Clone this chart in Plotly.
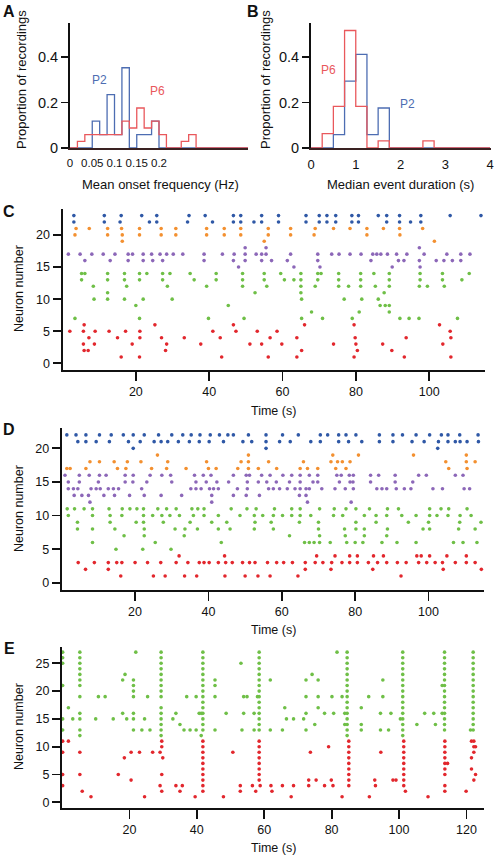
import plotly.graph_objects as go

W, H = 497, 860

# ---------------- Panel A: mean onset frequency histogram (bins of 1/60 Hz) ----------------
A_BIN_WIDTH = 1 / 60
A_P2 = [0, 0, 0, 0.118, 0.059, 0.235, 0.059, 0.353, 0, 0.059, 0.059, 0.118,
        0, 0, 0, 0, 0, 0, 0, 0, 0, 0, 0, 0]
A_P6 = [0, 0.029, 0.059, 0.059, 0.059, 0.059, 0.059, 0.118, 0.088, 0.176, 0.088, 0.118,
        0.059, 0, 0, 0.029, 0.059, 0, 0, 0, 0, 0, 0, 0]
A_XTICKS = [0, 0.05, 0.1, 0.15, 0.2]
A_XTICKTEXT = ["0", "0.05", "0.1", "0.15", "0.2"]
HIST_YTICKS = [0, 0.2, 0.4]
HIST_YTICKTEXT = ["0", "0.2", "0.4"]

# ---------------- Panel B: median event duration histogram (bins of 0.25 s) ----------------
B_BIN_WIDTH = 0.25
B_P2 = [0, 0, 0.059, 0.294, 0.412, 0.059, 0.176, 0, 0, 0, 0, 0, 0, 0, 0, 0]
B_P6 = [0, 0.063, 0.183, 0.517, 0.183, 0, 0.031, 0, 0, 0, 0.031, 0, 0, 0, 0, 0]
B_XTICKS = [0, 1, 2, 3, 4]

# ---------------- Panel C raster ----------------
C_BLUE_ROWS = [23, 22]
C_BLUE_T = [
    [3.1, 11.4, 16, 21.6, 25.7, 34.5, 38.9, 46.6, 48.6, 54.3, 58.9, 66.4, 70, 72.1, 74.5, 78.9, 80.7, 86.1, 88.4, 91.9, 97.7, 105.7, 114.1],
    [3.1, 11.4, 15.7, 23.7, 25.7, 34.1, 40.9, 46.6, 48.6, 52.2, 54.3, 58.9, 66.4, 70, 72.1, 74.5, 78.9, 80.7, 88.4, 91.9, 94.9, 97.7],
]
C_ORANGE_ROWS = [21, 20, 19]
C_ORANGE_T = [
    [3.7, 7.3, 12.3, 16.1, 21, 26.9, 30.9, 39.3, 44.1, 48.6, 56.1, 62.2, 68.9, 73.9, 78.4, 83, 87.5, 91.9, 98.2],
    [3.4, 12.3, 16.3, 21, 26.9, 30.9, 39.3, 44.1, 48.6, 56.1, 62.2, 68.6, 83, 92],
    [16.3, 55, 101.4],
]
C_PURPLE_ROWS = [18, 17, 16, 15]
C_PURPLE_T = [
    [49.8, 55.5, 97.3],
    [1.6, 4.8, 8, 11.1, 14.3, 17.9, 19.1, 22, 24.3, 26.6, 28.4, 30.2, 32.8, 38.6, 43.6, 46.8, 49.8, 52.8, 54.3, 55.5,
     62.2, 69.6, 73.4, 75.4, 78.4, 81.4, 84.6, 85.7, 86.8, 88.6, 91.1, 93.9, 98.6, 104.8, 108.6, 111.1],
    [6.1, 13, 17.9, 22, 24.6, 27.3, 38.6, 46.6, 49.8, 54.3, 57, 61.3, 69.6, 84.1, 91.6, 93.1, 97.3, 101.9, 104, 106.3, 108.6],
    [48, 63.1, 70.2, 89.9, 97.5],
]
C_GREEN_ROWS = [14, 13, 12, 11, 10, 9, 8, 7]
C_GREEN_T = [
    [5.2, 6.1, 12.3, 16.9, 21, 23, 27.3, 29.3, 34.8, 41.9, 49.1, 55, 59.5, 65, 69.6, 70.5, 75.3, 81.3, 84.9, 89.1, 97.5, 103.6, 110.9],
    [5.2, 12.3, 16.9, 21, 27.3, 35.9, 41.9, 49.1, 55, 60.5, 63.1, 65, 69.6, 75.3, 81.3, 89.1, 97.5, 103.6, 108.9],
    [8.4, 17.5, 28.6, 39.3, 49.1, 55.7, 65, 68.9, 75.3, 78, 81.3, 85.3, 89.1, 97.3, 99.5, 104.1],
    [12.3, 52.5, 65, 87.7],
    [8.6, 12.3, 16.9, 22, 29.9, 65.2, 76.8, 81.6, 86.1],
    [20, 45.2, 86.6, 88, 89.1],
    [67.9, 80.9, 89.1],
    [3.4, 21, 39.8, 49.5, 65.2, 70.9, 79, 92, 94.5, 97.2, 107.7],
]
C_RED_ROWS = [6, 5, 4, 3, 2, 1]
C_RED_T = [
    [5.9, 25.2, 46.6, 66, 79.5, 102.8],
    [2, 5.7, 8.9, 12.7, 17.2, 21.1, 41, 47.3, 53.1, 58.5, 105.7],
    [7.2, 15, 21.1, 27, 33.2, 43, 56.6, 63.9, 79.8, 93.7, 105.9],
    [5.7, 8.7, 19, 28.4, 37.7, 51.1, 54.3, 59.8, 73.9, 80, 87.3, 103.7],
    [5.9, 7, 28.1, 65.2, 80.4, 89.8],
    [16, 21, 43.4, 56.1, 63.9, 79.5, 93.2, 105.9],
]

# ---------------- Panel D raster ----------------
D_BLUE_ROWS = [22, 21, 20]
D_BLUE_T = [
    [1.4, 3.9, 6.6, 10.3, 13.5, 16.8, 19.5, 22.5, 26.4, 30, 33, 35.3, 37.7, 40.5, 43, 45.3, 46.8, 50.9, 55.7, 60.2, 64.5,
     70.5, 72.5, 75.5, 77.5, 80.2, 86.6, 90.3, 92.9, 96.6, 100.3, 103.5, 105.3, 108.5, 113.5],
    [4.4, 6.6, 9.4, 13, 18.2, 21.4, 25.2, 27.1, 28.9, 31.8, 34.8, 37.5, 40.2, 44.1, 49.4, 51.8, 55.7, 59.4, 62.3, 67.9,
     70.5, 75.5, 78.2, 81.8, 86.6, 90.3, 95.5, 98.8, 102.7, 105.3, 107.3, 108.6, 110.5, 113.6],
    [19.5, 55.7, 102.5],
]
D_ORANGE_ROWS = [19, 18, 17]
D_ORANGE_T = [
    [26.1, 50.9, 73.9, 80.9, 95.9, 110.3],
    [7.7, 10.3, 14.3, 17.9, 21.6, 28.9, 39.5, 48.9, 50.9, 56.4, 65.9, 73.4, 75.2, 76.5, 78.6, 104.7, 110.3, 112.7],
    [1.4, 2.3, 6.6, 15.2, 17.5, 24.5, 28.6, 33.9, 40, 42.1, 48, 50.9, 53.6, 58.6, 65, 67, 69.8, 74.7, 77.5, 105.5, 110.5],
]
D_PURPLE_ROWS = [16, 15, 14, 13, 12]
D_PURPLE_T = [
    [0.9, 4.8, 7.5, 10.3, 12.1, 17.3, 19.5, 24.1, 27.3, 29.7, 36.2, 38.6, 40.7, 46.8, 50.3, 51.2, 54.5, 56.8, 60.3, 62.7,
     65, 67.5, 69.8, 75, 76.2, 78.4, 79.5, 84.2, 86.4, 90.9, 97.3, 99.4, 107.3, 109.4],
    [1.8, 4.8, 10, 17.3, 19.4, 23.2, 30, 36.6, 39.4, 42.3, 45.5, 50.6, 53.6, 55.9, 58.5, 62.1, 65, 68.5, 69.8, 75.7,
     78.6, 79.4, 84.2, 90.9, 95.7],
    [1.8, 3.2, 4.4, 8, 9.4, 10.5, 12.7, 14.1, 15.5, 21.8, 35.2, 36.6, 38, 40.3, 41.4, 42.7, 47.9, 50.6, 56.4, 57.7,
     59.4, 61.5, 63.6, 65, 66.6, 67.5, 70.9, 74.5, 77.3, 79.5, 85.9, 87.3, 88.6, 91.2, 93.4, 95.2, 101.2, 103.8, 109.7, 111.2],
    [3.4, 5.5, 7.3, 11.5, 14.4, 18.5, 22.5, 27.1, 32.7, 40.9, 46.8, 50.3, 53.9, 64.8, 66.6],
    [7.7, 40.9, 67, 78.9],
]
D_GREEN_ROWS = [11, 10, 9, 8, 7, 6, 5]
D_GREEN_T = [
    [1.5, 3.5, 6.1, 8.4, 12.9, 16.5, 18.6, 20.5, 22.3, 26.2, 28.6, 31.2, 35.5, 37.1, 38.8, 46.2, 50.5, 53, 58, 62.7,
     65, 70.3, 74.3, 77.5, 80.2, 83.9, 88.8, 91.8, 100.3, 103.4, 105.5, 110.5],
    [1.8, 8.4, 13.2, 16.4, 22.3, 24.8, 27.3, 29.5, 32.1, 35.9, 38.8, 42.7, 48.6, 52.5, 54.8, 57.7, 60.2, 62.7, 65, 67.9,
     74.1, 76.6, 82.5, 85.7, 88.6, 92.7, 96.6, 100.3, 102.3, 105.3, 108.6, 111.6],
    [4.3, 13.2, 20.3, 22.3, 27.7, 35, 40.9, 45, 52.7, 57.1, 64.8, 70, 80.2, 85.7, 94.5, 100, 108.5, 114.3],
    [4.3, 8.4, 14.5, 22.5, 30.9, 33.6, 37, 42.7, 45.9, 52.5, 57.7, 70, 77.1, 80.2, 82.5, 88.8, 98.5, 100.3, 108.2, 112.7],
    [17, 22.5, 33.4, 62.1, 70.3, 77.3, 82.5, 88.6],
    [8.4, 25.5, 43.5, 66.2, 67.5, 68.8, 70.3, 73.2, 77.7, 80, 82.1, 87.3, 91.4, 96.6, 106.8, 109.4, 113.2],
    [14.8, 22.1, 29.8],
]
D_RED_ROWS = [4, 3, 2, 1]
D_RED_T = [
    [32, 44.4, 69.5, 74.5, 78.5, 80.6, 85, 87.7, 96.8, 98, 100.3, 105, 110.3],
    [4.5, 8.9, 12.7, 15, 16.4, 20, 23.4, 27, 31.2, 34.4, 37.5, 38.8, 40.2, 42.7, 44.7, 46.5, 49.3, 51.2, 52.7, 56.1,
     58.6, 60.5, 62.9, 66.4, 69.1, 71.2, 73.6, 76.4, 78.5, 80.6, 83.6, 86.1, 88.6, 91.5, 93.9, 97.3, 99.5, 101.8,
     103.8, 107.3, 110.3, 112.7],
    [6.5, 12.7, 66.4, 73.4, 84.8, 104, 114.4],
    [16.1, 25, 28.2, 33.5, 36.8, 44.5, 50, 53.5, 56.8, 64.4, 92.5],
]

# ---------------- Panel E raster (events: time, neurons active) ----------------
E_GREEN_EVENT_T = [0.2, 1.9, 3.2, 5.3, 10.0, 10.8, 12.8, 15.2, 18.0, 18.7, 19.2, 21.2, 21.9, 23.7, 24.5, 25.4, 26.1,
                   29.4, 32.9, 33.8, 35.0, 36.2, 37.0, 38.0, 39.8, 40.7, 41.3, 41.8, 45.4, 48.7, 53.1, 53.4, 53.9,
                   54.9, 57.0, 58.0, 58.5, 61.8, 65.4, 66.1, 66.6, 68.7, 71.7, 72.4, 74.2, 75.0, 76.0, 77.9, 80.1,
                   80.6, 81.6, 83.1, 83.9, 84.6, 88.8, 91.0, 94.5, 95.2, 96.9, 97.6, 100.4, 101.1, 105.3, 107.6,
                   110.3, 110.8, 112.8, 113.5, 121.2, 122.0]
E_GREEN_EVENT_N = [
    [27, 26, 25, 21, 15, 13], [17], [15], [27, 26, 25, 24, 23, 22, 21, 19, 16, 15, 13, 12], [15], [19], [19], [15],
    [22, 16], [23], [15], [22, 21, 20, 19, 16, 15, 13], [27], [13], [15], [19], [13],
    [27, 26, 25, 24, 23, 22, 21, 20, 19, 17, 16, 15, 14, 13, 12], [15], [16], [14], [13], [19], [13], [19, 13],
    [16], [16, 12], [27, 26, 25, 24, 23, 22, 21, 20, 19, 18, 17, 16, 15, 14, 13], [22, 21, 19, 13], [16], [25],
    [13], [19, 16], [19], [16, 13], [19], [27, 26, 25, 24, 23, 22, 21, 20, 19, 18, 17, 16, 15, 14, 13], [22, 13],
    [13], [17], [15], [15], [15], [22, 19, 16, 13], [23], [14], [22, 19, 17], [16], [19], [16], [27], [19], [16, 14],
    [27, 26, 25, 24, 23, 22, 21, 20, 19, 18, 17, 16, 15, 14, 13, 12], [17, 14, 13], [19], [16, 13], [22, 19], [13],
    [16], [15], [27, 26, 25, 24, 23, 22, 21, 20, 19, 18, 17, 16, 15, 14, 13, 12], [14], [16], [16], [14], [21, 16],
    [27, 26, 25, 24, 23, 22, 21, 20, 19, 18, 17, 16, 15, 14, 13], [13],
    [27, 26, 25, 24, 23, 22, 21, 20, 19, 18, 17, 16, 15, 14, 13],
]
E_RED_EVENT_T = [0.2, 1.9, 5.3, 6.0, 8.6, 16.7, 18.5, 20.5, 23.0, 24.5, 26.9, 29.1, 29.6, 29.9, 33.8, 35.0, 35.7,
                 39.5, 41.8, 47.9, 50.7, 52.9, 56.5, 57.5, 58.5, 58.8, 62.0, 62.3, 65.4, 68.0, 68.7, 73.2, 73.7,
                 75.4, 77.9, 79.1, 79.9, 80.4, 83.1, 85.1, 91.2, 92.8, 93.0, 94.6, 98.2, 99.1, 101.4, 101.9, 108.6,
                 113.6, 114.4, 119.9, 121.5, 122.2, 122.7]
E_RED_EVENT_N = [
    [11, 9, 5, 3], [11], [9, 5], [2], [1], [5], [8], [9, 4], [9], [1], [9], [9, 3], [11, 10, 5, 2], [8], [3], [2],
    [3], [1], [11, 10, 9, 8, 7, 6, 5, 4, 3, 2], [1], [9], [3, 2], [3], [2], [11, 10, 9, 8, 7, 6, 5, 4], [3], [3],
    [2], [3], [1], [3], [4, 3], [9], [4], [3], [10], [4], [3], [1], [11, 10, 9, 8, 7, 6, 5, 4, 3], [1], [4], [3],
    [9], [4], [4], [11, 10, 9, 8, 7, 6, 5, 4, 3], [2], [1], [11, 10, 9, 8, 7, 6, 5, 3, 2], [7], [2], [11, 8, 6],
    [11, 10, 9, 4], [10, 5],
]

C_YTICKS = [0, 5, 10, 15, 20]
D_YTICKS = [0, 5, 10, 15, 20]
E_YTICKS = [0, 5, 10, 15, 20, 25]
CD_XTICKS = [20, 40, 60, 80, 100]
E_XTICKS = [20, 40, 60, 80, 100, 120]

# ---------------- styling ----------------
FONT = "Liberation Sans, Arial, sans-serif"
HIST_BLUE = "#4d6db2"
HIST_RED = "#e9585c"
DOT = {
    "blue": "#2f58a6",
    "orange": "#f39030",
    "purple": "#8c67b8",
    "green": "#6fbf47",
    "red": "#e2272d",
}


def px(x):
    return x / W


def py(y):
    return 1 - y / H


def step_xy(values, width):
    xs, ys = [0.0], [0.0]
    for i, v in enumerate(values):
        xs.append(i * width)
        ys.append(v)
    xs.append(len(values) * width)
    ys.append(0.0)
    return xs, ys


def rows_to_xy(rows, times):
    xs, ys = [], []
    for r, ts in zip(rows, times):
        xs.extend(ts)
        ys.extend([r] * len(ts))
    return xs, ys


def events_to_xy(times, neurons):
    xs, ys = [], []
    for t, ns in zip(times, neurons):
        xs.extend([t] * len(ns))
        ys.extend(ns)
    return xs, ys


fig = go.Figure()

# Histograms
for vals, col, width, xa, ya in [
    (A_P2, HIST_BLUE, A_BIN_WIDTH, "x", "y"),
    (A_P6, HIST_RED, A_BIN_WIDTH, "x", "y"),
    (B_P2, HIST_BLUE, B_BIN_WIDTH, "x2", "y2"),
    (B_P6, HIST_RED, B_BIN_WIDTH, "x2", "y2"),
]:
    xs, ys = step_xy(vals, width)
    fig.add_trace(go.Scatter(x=xs, y=ys, mode="lines", line=dict(color=col, width=1.3, shape="hv"),
                             xaxis=xa, yaxis=ya, showlegend=False, hoverinfo="skip"))

# Rasters
raster_sets = [
    ("x3", "y3", [(C_BLUE_ROWS, C_BLUE_T, "blue"), (C_ORANGE_ROWS, C_ORANGE_T, "orange"),
                  (C_PURPLE_ROWS, C_PURPLE_T, "purple"), (C_GREEN_ROWS, C_GREEN_T, "green"),
                  (C_RED_ROWS, C_RED_T, "red")]),
    ("x4", "y4", [(D_BLUE_ROWS, D_BLUE_T, "blue"), (D_ORANGE_ROWS, D_ORANGE_T, "orange"),
                  (D_PURPLE_ROWS, D_PURPLE_T, "purple"), (D_GREEN_ROWS, D_GREEN_T, "green"),
                  (D_RED_ROWS, D_RED_T, "red")]),
]
for xa, ya, groups in raster_sets:
    for rows, times, c in groups:
        xs, ys = rows_to_xy(rows, times)
        fig.add_trace(go.Scatter(x=xs, y=ys, mode="markers",
                                 marker=dict(color=DOT[c], size=3.6, line=dict(width=0)),
                                 xaxis=xa, yaxis=ya, showlegend=False, hoverinfo="skip"))

for times, neurons, c in [(E_GREEN_EVENT_T, E_GREEN_EVENT_N, "green"), (E_RED_EVENT_T, E_RED_EVENT_N, "red")]:
    xs, ys = events_to_xy(times, neurons)
    fig.add_trace(go.Scatter(x=xs, y=ys, mode="markers",
                             marker=dict(color=DOT[c], size=3.6, line=dict(width=0)),
                             xaxis="x5", yaxis="y5", showlegend=False, hoverinfo="skip"))

axis_common = dict(showgrid=False, zeroline=False, showline=True, linecolor="#111",
                   tickfont=dict(family=FONT, size=13, color="#111"), ticks="outside",
                   tickcolor="#111", fixedrange=True, automargin=False, tickangle=0)

hist_y = dict(axis_common, linewidth=2, ticklen=7, tickwidth=1.5, range=[0, 0.55],
              tickvals=HIST_YTICKS, ticktext=HIST_YTICKTEXT, domain=[py(148), py(23)],
              tickfont=dict(family=FONT, size=14.5, color="#111"))
hist_x = dict(axis_common, linewidth=1.5, linecolor="#3a2222", ticklen=4, tickcolor="rgba(0,0,0,0)")

rast_x = dict(axis_common, linewidth=2, ticklen=9, tickwidth=1.8, tickfont=dict(family=FONT, size=12.5, color="#111"))
rast_y = dict(axis_common, linewidth=2, ticklen=8, tickwidth=1.8, tickfont=dict(family=FONT, size=12.5, color="#111"))

fig.update_layout(
    width=W, height=H, autosize=False,
    margin=dict(l=0, r=0, t=0, b=0, pad=0),
    paper_bgcolor="white", plot_bgcolor="white",
    font=dict(family=FONT, color="#111"),
    xaxis=dict(hist_x, domain=[px(70), px(248)], range=[0, 0.4], tickvals=A_XTICKS, ticktext=A_XTICKTEXT,
               tickfont=dict(family=FONT, size=11.5, color="#111"), anchor="y"),
    yaxis=dict(hist_y, anchor="x"),
    xaxis2=dict(hist_x, domain=[px(311), px(490.5)], range=[0, 4.01], tickvals=B_XTICKS,
                tickfont=dict(family=FONT, size=13, color="#111"), anchor="y2"),
    yaxis2=dict(hist_y, anchor="x2"),
    xaxis3=dict(rast_x, domain=[px(62.5), px(485)], range=[0, 115.2], tickvals=CD_XTICKS, anchor="y3"),
    yaxis3=dict(rast_y, domain=[py(369.8), py(209.2)], range=[-1, 24], tickvals=C_YTICKS, anchor="x3"),
    xaxis4=dict(rast_x, domain=[px(61.7), px(484.3)], range=[0, 115.2], tickvals=CD_XTICKS, anchor="y4"),
    yaxis4=dict(rast_y, domain=[py(589.5), py(428.2)], range=[-1, 23], tickvals=D_YTICKS, anchor="x4"),
    xaxis5=dict(rast_x, domain=[px(62), px(484.3)], range=[0, 125.3], tickvals=E_XTICKS, anchor="y5"),
    yaxis5=dict(rast_y, domain=[py(807.9), py(646.6)], range=[-1, 28], tickvals=E_YTICKS, anchor="x5"),
)

ann = []


def add_text(text, x, y, size=13, angle=0, color="#111", bold=False, xanchor="center", yanchor="middle"):
    ann.append(dict(text=f"<b>{text}</b>" if bold else text, x=px(x), y=py(y), xref="paper", yref="paper",
                    showarrow=False, textangle=angle, xanchor=xanchor, yanchor=yanchor,
                    font=dict(family=FONT, size=size, color=color)))


# panel letters
add_text("A", 9, 12, size=16, bold=True)
add_text("B", 253, 12, size=16, bold=True)
add_text("C", 9, 211, size=16, bold=True)
add_text("D", 9, 429, size=16, bold=True)
add_text("E", 9, 648, size=16, bold=True)

# axis titles
add_text("Proportion of recordings", 22, 80, size=13, angle=-90)
add_text("Proportion of recordings", 266, 80, size=13, angle=-90)
add_text("Mean onset frequency (Hz)", 160, 184, size=13)
add_text("Median event duration (s)", 400, 184, size=13)
add_text("Neuron number", 19, 289, size=12.5, angle=-90)
add_text("Time (s)", 273, 411, size=12.5)
add_text("Neuron number", 19, 509, size=12.5, angle=-90)
add_text("Time (s)", 273, 630, size=12.5)
add_text("Neuron number", 19, 727, size=12.5, angle=-90)
add_text("Time (s)", 273, 848, size=12.5)

fig.update_layout(annotations=ann)

# P2 / P6 labels in data coordinates
for text, x, y, col, xa, ya in [
    ("P2", 0.066, 0.30, HIST_BLUE, "x", "y"),
    ("P6", 0.196, 0.25, HIST_RED, "x", "y"),
    ("P6", 0.40, 0.343, HIST_RED, "x2", "y2"),
    ("P2", 2.15, 0.193, HIST_BLUE, "x2", "y2"),
]:
    fig.add_annotation(text=text, x=x, y=y, xref=xa, yref=ya, showarrow=False,
                       font=dict(family=FONT, size=12, color=col))

fig.write_html("out.html", config={"displayModeBar": False, "staticPlot": True},
               post_script="document.body.style.margin='0';document.body.style.padding='0';")
